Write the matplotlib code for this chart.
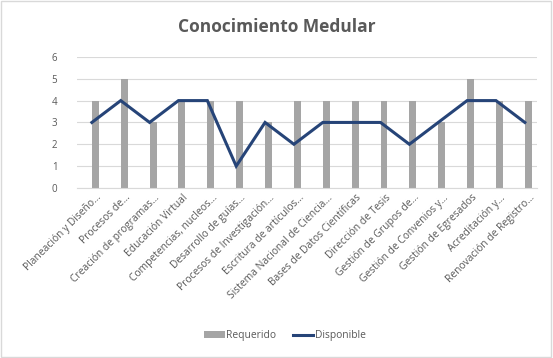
import numpy as np
import matplotlib.pyplot as plt
from matplotlib.patches import Rectangle, Patch
from matplotlib.lines import Line2D

categorias = ["Planeación y Diseño…", "Procesos de…", "Creación de programas…",
              "Educación Virtual", "Competencias, nucleos…", "Desarrollo de guías…",
              "Procesos de Investigación…", "Escritura de artículos…",
              "Sistema Nacional de Ciencia…", "Bases de Datos Científicas",
              "Dirección de Tesis", "Gestión de Grupos de…", "Gestión de Convenios y…",
              "Gestión de Egresados", "Acreditación y…", "Renovación de Registro…"]
requerido = [4, 5, 3, 4, 4, 4, 3, 4, 4, 4, 4, 4, 3, 5, 4, 4]
disponible = [3, 4, 3, 4, 4, 1, 3, 2, 3, 3, 3, 2, 3, 4, 4, 3]

plt.rcParams['font.family'] = ['Open Sans', 'DejaVu Sans']
gris_texto = '#595959'
color_barra = '#A5A5A5'
color_linea = '#264478'

fig = plt.figure(figsize=(5.53, 3.58), dpi=100)
fig.patches.append(Rectangle((0.002, 0.003), 0.995, 0.993, transform=fig.transFigure,
                             fill=False, edgecolor='#D9D9D9', linewidth=1))

ax = fig.add_axes([0.139, 0.475, 0.832, 0.366])
x = np.arange(len(categorias))

# bars sit just right of the category centre, line points on the centre
ax.bar(x + 0.12, requerido, width=0.24, color=color_barra, zorder=2)
ax.plot(x, disponible, color=color_linea, linewidth=2.2, zorder=3,
        solid_joinstyle='miter')

ax.set_xlim(-0.52, 15.42)
ax.set_ylim(0, 6)
ax.set_yticks(range(7))
ax.grid(axis='y', color='#D9D9D9', linewidth=0.8, zorder=0)
for s in ['top', 'right', 'left']:
    ax.spines[s].set_visible(False)
ax.spines['bottom'].set_color('#D9D9D9')
ax.tick_params(axis='both', length=0, labelsize=7, colors=gris_texto)
ax.tick_params(axis='y', pad=14)
ax.tick_params(axis='x', labelsize=7.4, pad=3)
ax.set_xticks(x + 0.15)
ax.set_xticklabels(categorias, rotation=45, ha='right', rotation_mode='anchor')

fig.text(0.5, 0.925, 'Conocimiento Medular', ha='center', va='center',
         fontsize=12.5, fontweight='bold', color=gris_texto)

handles = [Patch(facecolor=color_barra),
           Line2D([], [], color=color_linea, linewidth=2.2)]
fig.legend(handles, ['Requerido', 'Disponible'], loc='center',
           bbox_to_anchor=(0.515, 0.063), ncol=2, frameon=False,
           fontsize=7.4, labelcolor=gris_texto, handlelength=2.0, handleheight=0.6,
           handletextpad=0.15, columnspacing=1.6)

fig.savefig('out.png', dpi=100)
